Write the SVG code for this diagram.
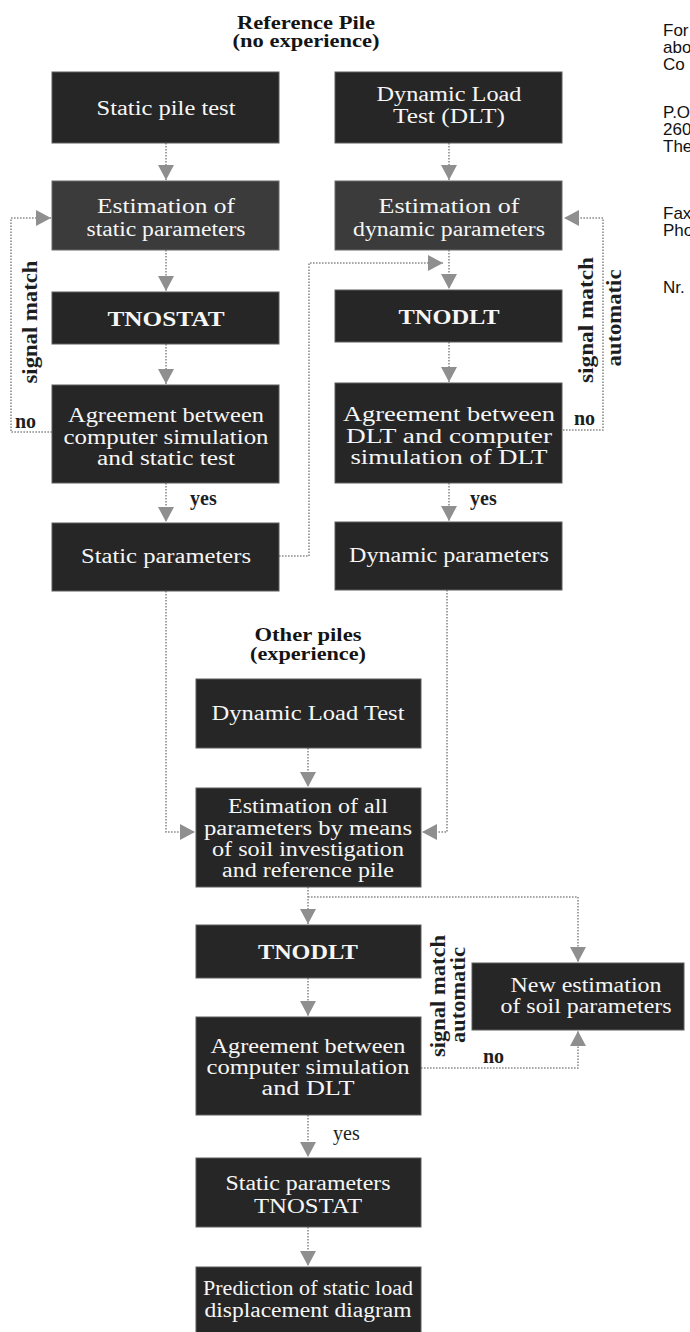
<svg xmlns="http://www.w3.org/2000/svg" width="690" height="1332" viewBox="0 0 690 1332">
<defs>
<style>
.bx{fill:#262626;stroke:#5c5c5c;stroke-width:1}
.bx2{fill:#3b3b3b;stroke:#6a6a6a;stroke-width:1}
.t{font-family:"Liberation Serif","Times New Roman",serif;font-size:20.5px;fill:#f6f6f6;text-anchor:middle}
.tb{font-weight:bold}
.h{font-family:"Liberation Serif","Times New Roman",serif;font-weight:bold;font-size:18px;fill:#141414;text-anchor:middle}
.lab{font-family:"Liberation Serif","Times New Roman",serif;font-weight:bold;font-size:20px;fill:#1e1e1e}
.labr{font-family:"Liberation Serif","Times New Roman",serif;font-size:20px;fill:#1e1e1e}
.rot{font-family:"Liberation Serif","Times New Roman",serif;font-weight:bold;font-size:21px;fill:#1e1e1e;text-anchor:middle}
.side{font-family:"Liberation Sans",Arial,sans-serif;font-size:17px;fill:#111}
.con{fill:none;stroke:#8c8c8c;stroke-width:1.6;stroke-dasharray:1.6 1.4}
</style>
<marker id="ah" markerUnits="userSpaceOnUse" markerWidth="18" markerHeight="18" viewBox="0 0 18 18" refX="15" refY="9" orient="auto">
<path d="M0,1 L15,9 L0,17 Z" fill="#8f8f8f"/>
</marker>
</defs>

<g id="header">
<text class="h" x="306" y="29" textLength="138" lengthAdjust="spacingAndGlyphs">Reference Pile</text>
<text class="h" x="306" y="47" textLength="147" lengthAdjust="spacingAndGlyphs">(no experience)</text>
</g>

<g id="sidetext">
<text class="side" x="663" y="36">For</text>
<text class="side" x="663" y="53">abo</text>
<text class="side" x="663" y="70">Co</text>
<text class="side" x="663" y="118">P.O</text>
<text class="side" x="663" y="135">260</text>
<text class="side" x="663" y="152">The</text>
<text class="side" x="663" y="219">Fax</text>
<text class="side" x="663" y="236">Pho</text>
<text class="side" x="663" y="293">Nr.</text>
</g>

<g id="connectors">
<path class="con" d="M166,143 V180" marker-end="url(#ah)"/>
<path class="con" d="M166,250 V291" marker-end="url(#ah)"/>
<path class="con" d="M166,344 V384" marker-end="url(#ah)"/>
<path class="con" d="M166,483 V522" marker-end="url(#ah)"/>
<path class="con" d="M52,432 H11 V218 H51" marker-end="url(#ah)"/>
<path class="con" d="M449,143 V180" marker-end="url(#ah)"/>
<path class="con" d="M449,250 V289" marker-end="url(#ah)"/>
<path class="con" d="M449,342 V382" marker-end="url(#ah)"/>
<path class="con" d="M449,483 V521" marker-end="url(#ah)"/>
<path class="con" d="M563,430 H603 V218 H564" marker-end="url(#ah)"/>
<path class="con" d="M279,556 H309 V263 H443" marker-end="url(#ah)"/>
<path class="con" d="M166,591 V832 H195" marker-end="url(#ah)"/>
<path class="con" d="M447,590 V832 H422" marker-end="url(#ah)"/>
<path class="con" d="M308,748 V787" marker-end="url(#ah)"/>
<path class="con" d="M308,887 V924" marker-end="url(#ah)"/>
<path class="con" d="M308,897 H578 V962" marker-end="url(#ah)"/>
<path class="con" d="M308,978 V1016" marker-end="url(#ah)"/>
<path class="con" d="M421,1068 H578 V1031" marker-end="url(#ah)"/>
<path class="con" d="M308,1115 V1157" marker-end="url(#ah)"/>
<path class="con" d="M308,1227 V1266" marker-end="url(#ah)"/>
</g>

<g id="labels">
<text class="lab" x="15" y="428">no</text>
<text class="rot" transform="translate(37,322) rotate(-90)" textLength="123" lengthAdjust="spacingAndGlyphs">signal match</text>
<text class="lab" x="190" y="505">yes</text>
<text class="lab" x="574" y="425">no</text>
<text class="rot" transform="translate(593,320) rotate(-90)" textLength="126" lengthAdjust="spacingAndGlyphs">signal match</text>
<text class="rot" transform="translate(621,318) rotate(-90)" textLength="97" lengthAdjust="spacingAndGlyphs">automatic</text>
<text class="lab" x="470" y="505">yes</text>
<text class="rot" transform="translate(445,996) rotate(-90)" textLength="122" lengthAdjust="spacingAndGlyphs">signal match</text>
<text class="rot" transform="translate(465,995) rotate(-90)" textLength="96" lengthAdjust="spacingAndGlyphs">automatic</text>
<text class="lab" x="483" y="1063">no</text>
<text class="labr" x="333" y="1140">yes</text>
</g>

<g id="other-header">
<text class="h" x="308" y="641" textLength="107" lengthAdjust="spacingAndGlyphs">Other piles</text>
<text class="h" x="308" y="660" textLength="116" lengthAdjust="spacingAndGlyphs">(experience)</text>
</g>

<g id="n-static-pile-test">
<rect class="bx" x="52" y="72" width="227" height="71"/>
<text class="t" x="166" y="115" textLength="139" lengthAdjust="spacingAndGlyphs">Static pile test</text>
</g>
<g id="n-dlt">
<rect class="bx" x="335" y="72" width="227" height="71"/>
<text class="t" x="449" y="101" textLength="145" lengthAdjust="spacingAndGlyphs">Dynamic Load</text>
<text class="t" x="449" y="123" textLength="112" lengthAdjust="spacingAndGlyphs">Test (DLT)</text>
</g>
<g id="n-est-static">
<rect class="bx2" x="52" y="181" width="227" height="69"/>
<text class="t" x="166" y="213" textLength="138" lengthAdjust="spacingAndGlyphs">Estimation of</text>
<text class="t" x="166" y="236" textLength="159" lengthAdjust="spacingAndGlyphs">static parameters</text>
</g>
<g id="n-est-dynamic">
<rect class="bx2" x="335" y="181" width="227" height="69"/>
<text class="t" x="449" y="213" textLength="141" lengthAdjust="spacingAndGlyphs">Estimation of</text>
<text class="t" x="449" y="236" textLength="192" lengthAdjust="spacingAndGlyphs">dynamic parameters</text>
</g>
<g id="n-tnostat">
<rect class="bx" x="52" y="292" width="227" height="52"/>
<text class="t tb" x="166" y="326" textLength="117" lengthAdjust="spacingAndGlyphs">TNOSTAT</text>
</g>
<g id="n-tnodlt">
<rect class="bx" x="335" y="290" width="227" height="52"/>
<text class="t tb" x="449" y="324" textLength="101" lengthAdjust="spacingAndGlyphs">TNODLT</text>
</g>
<g id="n-agree-static">
<rect class="bx" x="52" y="385" width="227" height="98"/>
<text class="t" x="166" y="422" textLength="196" lengthAdjust="spacingAndGlyphs">Agreement between</text>
<text class="t" x="166" y="444" textLength="205" lengthAdjust="spacingAndGlyphs">computer simulation</text>
<text class="t" x="166" y="465" textLength="138" lengthAdjust="spacingAndGlyphs">and static test</text>
</g>
<g id="n-agree-dlt">
<rect class="bx" x="335" y="383" width="227" height="100"/>
<text class="t" x="449" y="421" textLength="212" lengthAdjust="spacingAndGlyphs">Agreement between</text>
<text class="t" x="449" y="443" textLength="206" lengthAdjust="spacingAndGlyphs">DLT and computer</text>
<text class="t" x="449" y="464" textLength="197" lengthAdjust="spacingAndGlyphs">simulation of DLT</text>
</g>
<g id="n-static-params">
<rect class="bx" x="52" y="523" width="227" height="68"/>
<text class="t" x="166" y="563" textLength="170" lengthAdjust="spacingAndGlyphs">Static parameters</text>
</g>
<g id="n-dynamic-params">
<rect class="bx" x="335" y="522" width="227" height="68"/>
<text class="t" x="449" y="562" textLength="200" lengthAdjust="spacingAndGlyphs">Dynamic parameters</text>
</g>
<g id="n-dlt2">
<rect class="bx" x="196" y="679" width="225" height="69"/>
<text class="t" x="308" y="720" textLength="193" lengthAdjust="spacingAndGlyphs">Dynamic Load Test</text>
</g>
<g id="n-est-all">
<rect class="bx" x="196" y="788" width="225" height="99"/>
<text class="t" x="308" y="813" textLength="160" lengthAdjust="spacingAndGlyphs">Estimation of all</text>
<text class="t" x="308" y="835" textLength="208" lengthAdjust="spacingAndGlyphs">parameters by means</text>
<text class="t" x="308" y="856" textLength="192" lengthAdjust="spacingAndGlyphs">of soil investigation</text>
<text class="t" x="308" y="877" textLength="172" lengthAdjust="spacingAndGlyphs">and reference pile</text>
</g>
<g id="n-tnodlt2">
<rect class="bx" x="196" y="925" width="225" height="53"/>
<text class="t tb" x="308" y="959" textLength="100" lengthAdjust="spacingAndGlyphs">TNODLT</text>
</g>
<g id="n-new-est">
<rect class="bx" x="472" y="963" width="212" height="67"/>
<text class="t" x="586" y="992" textLength="151" lengthAdjust="spacingAndGlyphs">New estimation</text>
<text class="t" x="586" y="1013" textLength="171" lengthAdjust="spacingAndGlyphs">of soil parameters</text>
</g>
<g id="n-agree-dlt2">
<rect class="bx" x="196" y="1017" width="225" height="98"/>
<text class="t" x="308" y="1053" textLength="195" lengthAdjust="spacingAndGlyphs">Agreement between</text>
<text class="t" x="308" y="1074" textLength="203" lengthAdjust="spacingAndGlyphs">computer simulation</text>
<text class="t" x="308" y="1095" textLength="93" lengthAdjust="spacingAndGlyphs">and DLT</text>
</g>
<g id="n-static-tnostat">
<rect class="bx" x="196" y="1158" width="225" height="69"/>
<text class="t" x="308" y="1190" textLength="165" lengthAdjust="spacingAndGlyphs">Static parameters</text>
<text class="t" x="308" y="1213" textLength="108" lengthAdjust="spacingAndGlyphs">TNOSTAT</text>
</g>
<g id="n-prediction">
<rect class="bx" x="196" y="1267" width="225" height="66"/>
<text class="t" x="308" y="1295" textLength="210" lengthAdjust="spacingAndGlyphs">Prediction of static load</text>
<text class="t" x="308" y="1317" textLength="207" lengthAdjust="spacingAndGlyphs">displacement diagram</text>
</g>
</svg>
